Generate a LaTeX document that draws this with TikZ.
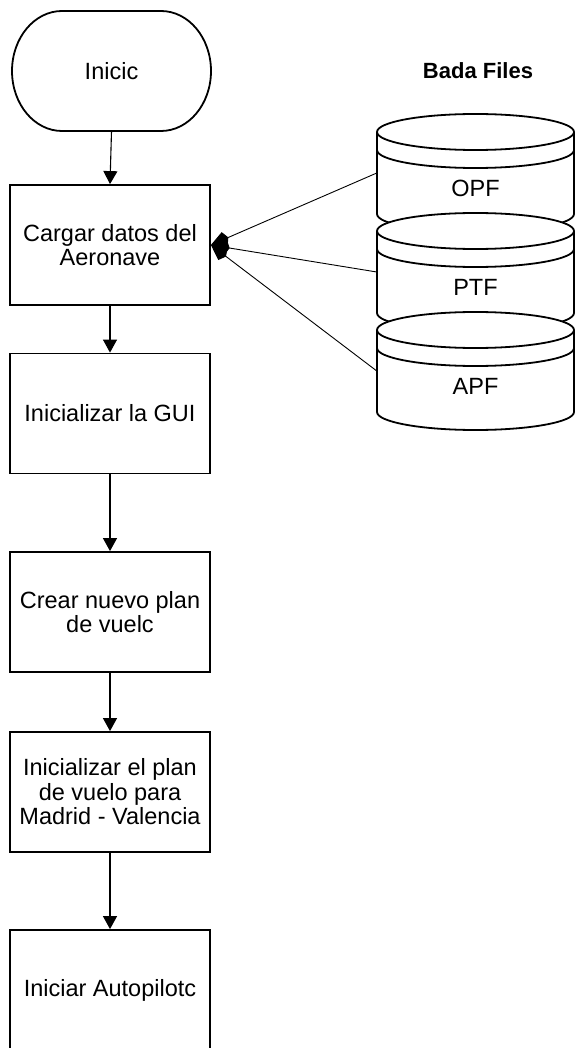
\documentclass[tikz,border=0pt]{standalone}
\usepackage{fontspec}
\setmainfont{Liberation Sans}
\usetikzlibrary{arrows.meta}

\tikzset{
  txt/.style={font=\fontsize{23.5pt}{24.5pt}\selectfont, align=center, inner sep=0pt},
  stepbox/.style={draw, line width=1.8pt, minimum width=200pt, minimum height=120pt, txt},
  outline/.style={draw, line width=1.8pt},
  flow/.style={line width=1.1pt, -{Triangle[length=13pt,width=14pt]}},
  feed/.style={line width=0.9pt, -{Kite[length=19pt,width=15pt,inset=4pt]}},
  drumline/.style={line width=1.8pt},
  datastore/.pic={
    % drum body with white fill, drawn over the previous drum
    \path[draw, fill=white, drumline] (-98.5,0) -- (-98.5,82)
      arc[start angle=180, end angle=0, x radius=98.5, y radius=18]
      -- (98.5,0)
      arc[start angle=0, end angle=-180, x radius=98.5, y radius=18] -- cycle;
    \draw[drumline] (-98.5,0) arc[start angle=180, end angle=0, x radius=98.5, y radius=18];
    \draw[drumline] (-98.5,18) arc[start angle=180, end angle=0, x radius=98.5, y radius=18];
    \node[minimum width=197pt, minimum height=118pt, inner sep=0pt] (-body) at (0,41) {};
    \node[txt] (-label) at (0,56) {#1};
  }
}

\begin{document}
\begin{tikzpicture}[x=1pt, y=-1pt]
  \useasboundingbox (0,0) rectangle (574,1048);

  % start terminal
  \draw[outline] (62,11) -- (161,11)
    arc[start angle=-90, end angle=90, x radius=50, y radius=60]
    -- (62,131)
    arc[start angle=90, end angle=270, x radius=50, y radius=60] -- cycle;
  \node[txt, minimum height=120pt, minimum width=199pt] (start) at (111.5,71) {Inicic};

  % process steps
  \node[stepbox] (load)  at (110,245)   {Cargar datos del\\Aeronave};
  \node[stepbox] (gui)   at (110,413.5) {Inicializar la GUI};
  \node[stepbox] (plan)  at (110,612)   {Crear nuevo plan\\de vuelc};
  \node[stepbox] (route) at (110,792)   {Inicializar el plan\\de vuelo para\\Madrid - Valencia};
  \node[stepbox] (auto)  at (110,990)   {Iniciar Autopilotc};

  \draw[flow] (start.south) -- (load.north);
  \draw[flow] (load.south)  -- (gui.north);
  \draw[flow] (gui.south)   -- (plan.north);
  \draw[flow] (plan.south)  -- (route.north);
  \draw[flow] (route.south) -- (auto.north);

  % BADA data files
  \node[font=\bfseries\fontsize{22pt}{24pt}\selectfont, inner sep=0pt] (title) at (478,71) {Bada Files};
  \pic (opf) at (475.5,132) {datastore=OPF};
  \pic (ptf) at (475.5,231) {datastore=PTF};
  \pic (apf) at (475.5,330) {datastore=APF};

  \draw[feed] (opf-body.west) -- (load.east);
  \draw[feed] (ptf-body.west) -- (load.east);
  \draw[feed] (apf-body.west) -- (load.east);
\end{tikzpicture}
\end{document}
